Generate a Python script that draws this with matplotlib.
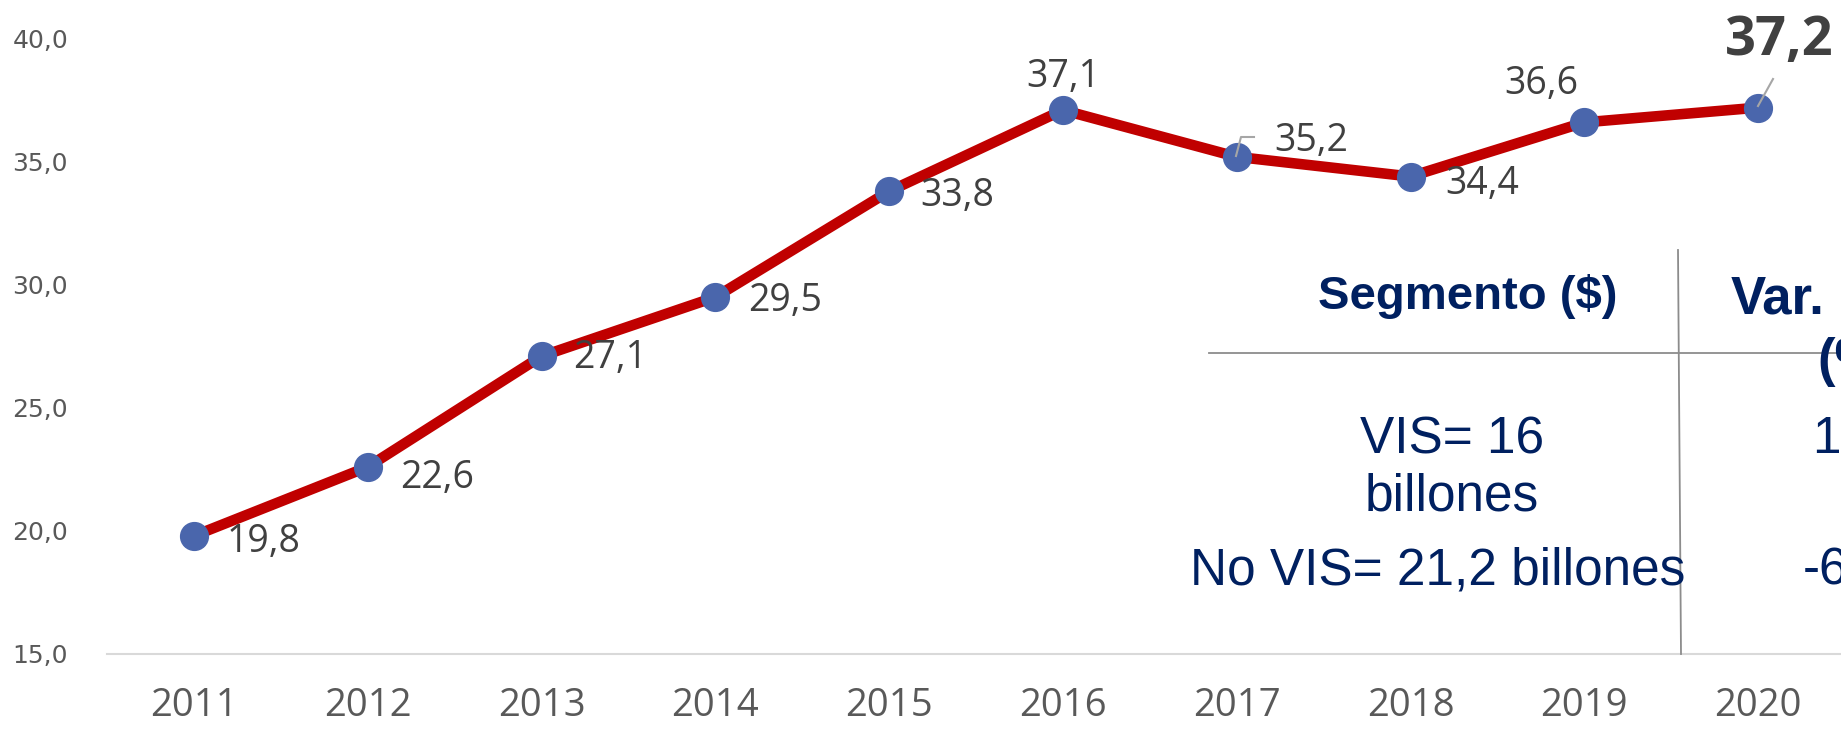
import matplotlib
matplotlib.use("Agg")
import matplotlib.pyplot as plt
from matplotlib.lines import Line2D

# ---- data ----
years = ["2011", "2012", "2013", "2014", "2015", "2016", "2017", "2018", "2019", "2020"]
values = [19.8, 22.6, 27.1, 29.5, 33.8, 37.1, 35.2, 34.4, 36.6, 37.2]
y_ticks = [15, 20, 25, 30, 35, 40]

# label offsets in pixels (dx, dy) relative to each point (dy up-positive)
label_offsets = [(70, -6), (69, -11), (69, -2), (70, -4), (68, -5),
                 (0, 33), (75, 16), (72, -7), (-43, 38), (21, 67)]

W, H = 1841, 729
fig = plt.figure(figsize=(W / 100, H / 100), dpi=100)
ax = fig.add_axes([107 / W, 1 - 654 / H, (1845 - 107) / W, (654 - 38.7) / H])

x = list(range(len(years)))
ax.plot(x, values, color="#C00000", lw=7.6, solid_capstyle="butt", zorder=2)
ax.plot(x, values, ls="none", marker="o", ms=20, color="#4A66AC", zorder=3)

ax.set_xlim(-0.5, len(years) - 0.5)
ax.set_ylim(15, 40)
ax.set_yticks(y_ticks)
ax.set_yticklabels([f"{v:.1f}".replace(".", ",") for v in y_ticks],
                   fontfamily="DejaVu Sans", fontsize=18, color="#595959")
ax.set_xticks(x)
ax.set_xticklabels(years, fontfamily="Open Sans", fontsize=27.5, color="#595959")
ax.tick_params(axis="y", length=0, pad=28)
ax.tick_params(axis="x", length=0, pad=24)
for s in ["left", "right", "top"]:
    ax.spines[s].set_visible(False)
ax.spines["bottom"].set_color("#D9D9D9")
ax.spines["bottom"].set_linewidth(1.5)

for i, (v, (dx, dy)) in enumerate(zip(values, label_offsets)):
    txt = f"{v:.1f}".replace(".", ",")
    if i == len(values) - 1:
        ax.annotate(txt, (i, v), xytext=(dx, dy), textcoords="offset pixels",
                    ha="center", va="center", fontfamily="Open Sans",
                    fontsize=39, fontweight="bold", color="#404040", zorder=4)
    else:
        ax.annotate(txt, (i, v), xytext=(dx, dy), textcoords="offset pixels",
                    ha="center", va="center", fontfamily="Open Sans",
                    fontsize=27, color="#404040", zorder=4)

# leader lines (figure pixel coordinates)
def fx(px):
    return px / W

def fy(py):
    return 1 - py / H

fig.add_artist(Line2D([fx(1236), fx(1241), fx(1254)], [fy(156), fy(137), fy(137)],
                      color="#A6A6A6", lw=1.5, zorder=5))
fig.add_artist(Line2D([fx(1758), fx(1773)], [fy(106), fy(79)],
                      color="#A6A6A6", lw=1.5, zorder=5))

# ---- table overlay ----
navy = "#002060"
fig.add_artist(Line2D([fx(1209), fx(1841)], [fy(353), fy(353)], color="#8C8C8C", lw=1.3))
fig.add_artist(Line2D([fx(1678), fx(1681)], [fy(250), fy(654)], color="#8C8C8C", lw=1.3))

fig.text(fx(1618), fy(296), "Segmento ($)", ha="right", va="center",
         fontfamily="Liberation Sans", fontweight="bold", fontsize=34, color=navy)
fig.text(fx(1731), fy(313), "Var.", ha="left", va="baseline",
         fontfamily="Liberation Sans", fontweight="bold", fontsize=38, color=navy)
fig.text(fx(1817), fy(376), "(%)", ha="left", va="baseline",
         fontfamily="Liberation Sans", fontweight="bold", fontsize=38, color=navy)

fig.text(fx(1452), fy(440), "VIS= 16", ha="center", va="center",
         fontfamily="Liberation Sans", fontsize=37, color=navy)
fig.text(fx(1452), fy(497), "billones", ha="center", va="center",
         fontfamily="Liberation Sans", fontsize=37, color=navy)
fig.text(fx(1438), fy(571), "No VIS= 21,2 billones", ha="center", va="center",
         fontfamily="Liberation Sans", fontsize=37, color=navy)
fig.text(fx(1812), fy(440), "16", ha="left", va="center",
         fontfamily="Liberation Sans", fontsize=37, color=navy)
fig.text(fx(1803), fy(571), "-6", ha="left", va="center",
         fontfamily="Liberation Sans", fontsize=37, color=navy)

fig.savefig("out.png", dpi=100)
